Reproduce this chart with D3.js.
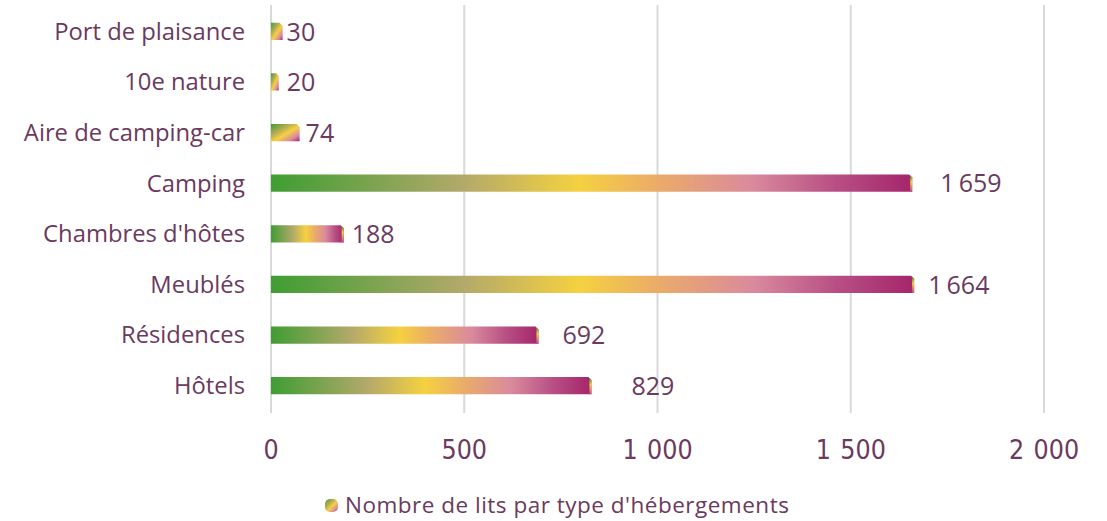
<!DOCTYPE html>
<html>
<head>
<meta charset="utf-8">
<script src="https://cdn.jsdelivr.net/npm/d3@7"></script>
<style>
  body { margin: 0; background: #fff; }
  svg text { fill: #6b3a5e; }
</style>
</head>
<body>
<div id="chart"></div>
<script>
// DATA ///////////////////////////////////////////////////////////////////
const categories = ["Port de plaisance", "10e nature", "Aire de camping-car", "Camping",
                    "Chambres d'hôtes", "Meublés", "Résidences", "Hôtels"];
const beds = [30, 20, 74, 1659, 188, 1664, 692, 829];
const xTicks = [0, 500, 1000, 1500, 2000];
const seriesName = "Nombre de lits par type d'hébergements";

// extra gap between bar end and its label, as in the original
const labelGap = [4, 8, 6, 28, 8, 14, 24, 40];

(function() {
    const W = 1107, H = 521;
    const margin = {left: 271, right: 63, top: 6, bottom: 110};
    const labelFont = "'Open Sans', sans-serif";

    const svg = d3.select("#chart").append("svg")
        .attr("width", W).attr("height", H);

    const x = d3.scaleLinear().domain([0, 2000]).range([margin.left, W - margin.right]);
    const y = d3.scaleBand().domain(categories)
        .range([margin.top, H - margin.bottom]).paddingInner(0.66).paddingOuter(0.33);

    // GRADIENTS //////////////////////////////////////////////////////////
    const defs = svg.append("defs");
    const stops = [[0, "#3f9d33"], [0.3, "#b3a96a"], [0.48, "#f5d140"], [0.6, "#ebac68"],
                   [0.75, "#d98a9d"], [0.88, "#b84f84"], [1, "#a4256b"]];
    function makeGrad(id, x2, y2, list) {
        const g = defs.append("linearGradient").attr("id", id)
            .attr("x1", 0).attr("y1", 0).attr("x2", x2).attr("y2", y2);
        list.forEach(s => g.append("stop").attr("offset", s[0]).attr("stop-color", s[1]));
    }
    makeGrad("barGrad", 1, 0, stops);
    makeGrad("diagGrad", 1, 1, [[0, "#3f9d33"], [0.35, "#b9ad55"], [0.55, "#f5d140"],
                                [0.8, "#d98a9d"], [1, "#a4256b"]]);
    makeGrad("capGrad", 0, 1, [[0, "#3f9d33"], [0.4, "#f5d140"], [1, "#c0508a"]]);

    // gridlines
    svg.append("g").selectAll("line").data(xTicks).enter().append("line")
        .attr("x1", d => x(d)).attr("x2", d => x(d))
        .attr("y1", 5).attr("y2", 413)
        .attr("stroke", "#d9d9d9").attr("stroke-width", 2);

    // x tick labels
    const fmt = d => d3.format(",")(d).replace(/,/g, " ");
    svg.append("g").selectAll("text").data(xTicks).enter().append("text")
        .attr("x", d => x(d)).attr("y", 459)
        .attr("text-anchor", "middle")
        .style("font-family", "'DejaVu Sans Condensed', 'DejaVu Sans', sans-serif")
        .style("font-stretch", "condensed")
        .style("font-size", "26.5px")
        .style("word-spacing", "2px")
        .text(fmt);

    // category labels
    svg.append("g").selectAll("text").data(categories).enter().append("text")
        .attr("x", 245).attr("y", d => y(d) + y.bandwidth() / 2)
        .attr("dy", "0.35em").attr("text-anchor", "end")
        .style("font-family", labelFont).style("font-size", "23.8px")
        .text(d => d);

    // BARS ///////////////////////////////////////////////////////////////
    const rows = categories.map((c, i) => ({c: c, v: beds[i], gap: labelGap[i]}));
    const bh = y.bandwidth();
    const bars = svg.append("g").selectAll("g").data(rows).enter().append("g");
    // bar body with a cut top-right corner
    bars.append("path")
        .attr("d", function(d) {
            const x0 = x(0), x1 = x(d.v), y0 = y(d.c), c = Math.min(3, (x1 - x0) / 3);
            return `M${x0},${y0}H${x1 - c}L${x1},${y0 + c}V${y0 + bh}H${x0}Z`;
        })
        .attr("fill", d => d.v < 100 ? "url(#diagGrad)" : "url(#barGrad)");
    // thin bevel sliver at the end of long bars
    bars.filter(d => d.v >= 100).append("path")
        .attr("d", function(d) {
            const x1 = x(d.v), y0 = y(d.c);
            return `M${x1 - 2},${y0 + 1}L${x1},${y0 + 3}V${y0 + bh}H${x1 - 2}Z`;
        })
        .attr("fill", "url(#capGrad)");

    // value labels
    const vfmt = d => d3.format(",")(d).replace(/,/g, "\u2009");
    svg.append("g").selectAll("text").data(rows).enter().append("text")
        .attr("x", d => x(d.v) + d.gap).attr("y", d => y(d.c) + bh / 2)
        .attr("dy", "0.37em")
        .style("font-family", labelFont).style("font-size", "25px")
        .text(d => vfmt(d.v));

    // LEGEND /////////////////////////////////////////////////////////////
    const lg = svg.append("g");
    lg.append("rect").attr("x", 325).attr("y", 499).attr("width", 13).attr("height", 13)
        .attr("rx", 5).attr("fill", "url(#diagGrad)");
    lg.append("text").attr("x", 345).attr("y", 513)
        .style("font-family", labelFont).style("font-size", "22.5px")
        .style("letter-spacing", "0.5px")
        .text(seriesName);
})();
</script>
</body>
</html>
